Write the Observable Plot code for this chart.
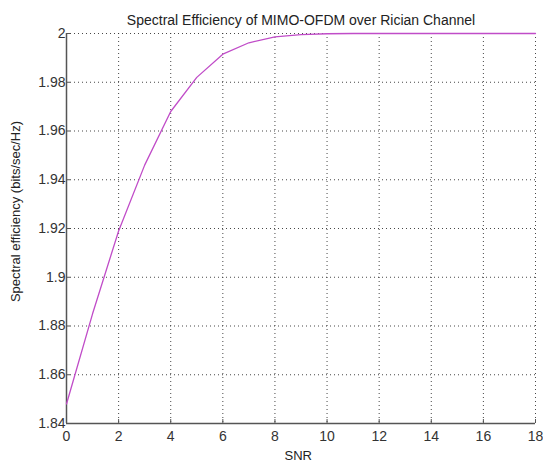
<!DOCTYPE html>
<html>
<head>
<meta charset="utf-8">
<script src="https://cdn.jsdelivr.net/npm/d3@7"></script>
<script src="https://cdn.jsdelivr.net/npm/@observablehq/plot@0.6"></script>
<style>
  html, body { margin: 0; padding: 0; background: #fff; }
  svg { display: block; }
</style>
</head>
<body>
<div id="chart"></div>
<script>
const snr = [0, 1, 2, 3, 4, 5, 6, 7, 8, 9, 10, 11, 12, 13, 14, 15, 16, 17, 18];
const efficiency = [1.848, 1.885, 1.919, 1.946, 1.968, 1.982, 1.9915, 1.9962, 1.9986, 1.9995, 1.9999, 2, 2, 2, 2, 2, 2, 2, 2];
const xTicks = [0, 2, 4, 6, 8, 10, 12, 14, 16, 18];
const yTicks = [1.84, 1.86, 1.88, 1.9, 1.92, 1.94, 1.96, 1.98, 2];
const titleText = "Spectral Efficiency of MIMO-OFDM over Rician Channel";
const xLabel = "SNR";
const yLabel = "Spectral efficiency (bits/sec/Hz)";

const data = snr.map((s, i) => ({snr: s, eff: efficiency[i]}));
const fmt = d => String(+d.toFixed(2));
const font = "'Liberation Sans', Arial, sans-serif";

const chart = Plot.plot({
  width: 543,
  height: 466,
  marginLeft: 66,
  marginRight: 8,
  marginTop: 33,
  marginBottom: 43,
  style: {fontFamily: font, background: "#fff"},
  x: {domain: [0, 18], ticks: xTicks},
  y: {domain: [1.84, 2], ticks: yTicks},
  marks: [
    Plot.gridX(xTicks, {stroke: "#333", strokeOpacity: 0.9, strokeDasharray: "1,3", strokeWidth: 1}),
    Plot.gridY(yTicks, {stroke: "#333", strokeOpacity: 0.9, strokeDasharray: "1,3", strokeWidth: 1}),
    Plot.ruleX([0], {stroke: "#555", strokeWidth: 1.5}),
    Plot.ruleY([1.84], {stroke: "#555", strokeWidth: 1.5}),
    Plot.axisX(xTicks, {tickSize: -4, stroke: "#555", tickFormat: fmt, fontSize: 14, fill: "#333", tickPadding: 12, label: null}),
    Plot.axisY(yTicks, {tickSize: -4, stroke: "#555", tickFormat: fmt, fontSize: 14, fill: "#333", tickPadding: 5, label: null}),
    Plot.line(data, {x: "snr", y: "eff", stroke: "#c04cc8", strokeWidth: 1.3}),
    Plot.text([titleText], {frameAnchor: "top", dy: -18, fontSize: 14, fill: "#222", fontFamily: font}),
    Plot.text([xLabel], {frameAnchor: "bottom-left", dx: 218, dy: 36, textAnchor: "start", fontSize: 13, fill: "#222"}),
    Plot.text([yLabel], {frameAnchor: "left", textAnchor: "middle", dx: -51, dy: -17, rotate: -90, fontSize: 13, fill: "#222"})
  ]
});
document.getElementById("chart").appendChild(chart);
</script>
</body>
</html>
